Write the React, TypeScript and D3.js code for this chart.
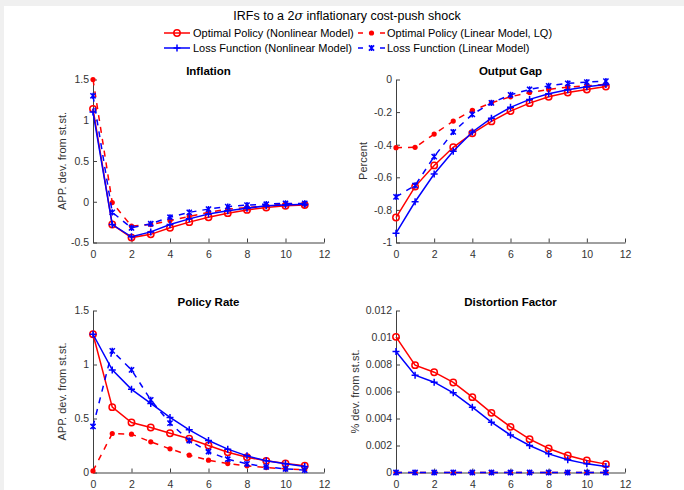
import React, { useEffect, useRef } from "react";
import * as d3 from "d3";

const periods = [0, 1, 2, 3, 4, 5, 6, 7, 8, 9, 10, 11];

const inflOptNL = [1.14, -0.28, -0.44, -0.4, -0.32, -0.25, -0.19, -0.14, -0.1, -0.07, -0.05, -0.04];
const inflOptLin = [1.5, -0.01, -0.3, -0.28, -0.23, -0.18, -0.13, -0.09, -0.07, -0.05, -0.03, -0.03];
const inflLossNL = [1.1, -0.28, -0.43, -0.37, -0.28, -0.21, -0.15, -0.11, -0.08, -0.05, -0.04, -0.03];
const inflLossLin = [1.3, -0.13, -0.32, -0.27, -0.19, -0.13, -0.09, -0.06, -0.04, -0.03, -0.02, -0.02];

const gapOptNL = [-0.847, -0.657, -0.527, -0.416, -0.33, -0.257, -0.194, -0.145, -0.106, -0.08, -0.061, -0.043];
const gapOptLin = [-0.418, -0.416, -0.335, -0.255, -0.19, -0.143, -0.106, -0.08, -0.061, -0.047, -0.039, -0.029];
const gapLossNL = [-0.943, -0.75, -0.58, -0.44, -0.322, -0.237, -0.171, -0.122, -0.088, -0.063, -0.045, -0.031];
const gapLossLin = [-0.72, -0.65, -0.473, -0.322, -0.214, -0.143, -0.094, -0.061, -0.039, -0.024, -0.016, -0.01];

const rateOptNL = [1.28, 0.605, 0.463, 0.417, 0.364, 0.312, 0.25, 0.188, 0.142, 0.108, 0.083, 0.062];
const rateOptLin = [0.015, 0.361, 0.355, 0.284, 0.219, 0.16, 0.114, 0.083, 0.062, 0.046, 0.034, 0.025];
const rateLossNL = [1.28, 0.95, 0.77, 0.64, 0.51, 0.395, 0.296, 0.216, 0.154, 0.108, 0.08, 0.056];
const rateLossLin = [0.426, 1.126, 0.95, 0.672, 0.457, 0.296, 0.194, 0.123, 0.08, 0.052, 0.034, 0.022];

const distOptNL = [0.01005, 0.00795, 0.00743, 0.00667, 0.00558, 0.00442, 0.00338, 0.00247, 0.00178, 0.00126, 0.00089, 0.00062];
const distOptLin = [0, 0, 0, 0, 0, 0, 0, 0, 0, 0, 0, 0];
const distLossNL = [0.00896, 0.00721, 0.00669, 0.0059, 0.00484, 0.00373, 0.00277, 0.002, 0.00138, 0.00094, 0.00064, 0.00044];
const distLossLin = [0, 0, 0, 0, 0, 0, 0, 0, 0, 0, 0, 0];

const seriesNames = [
  "Optimal Policy (Nonlinear Model)",
  "Optimal Policy (Linear Model, LQ)",
  "Loss Function (Nonlinear Model)",
  "Loss Function (Linear Model)",
];
const seriesColors = ["#ff0000", "#ff0000", "#0000ff", "#0000ff"];
const seriesDashed = [false, true, false, true];
const seriesMarkers = ["circle", "dot", "plus", "star"];

const xTicks = [0, 2, 4, 6, 8, 10, 12];
const panelTitles = ["Inflation", "Output Gap", "Policy Rate", "Distortion Factor"];
const panelYLabels = ["APP. dev. from st.st.", "Percent", "APP. dev. from st.st.", "% dev. from st.st."];
const panelYDomains = [[-0.5, 1.5], [-1, 0], [0, 1.5], [0, 0.012]];
const panelYTicks = [
  [-0.5, 0, 0.5, 1, 1.5],
  [-1, -0.8, -0.6, -0.4, -0.2, 0],
  [0, 0.5, 1, 1.5],
  [0, 0.002, 0.004, 0.006, 0.008, 0.01, 0.012],
];
const panelData = [
  [inflOptNL, inflOptLin, inflLossNL, inflLossLin],
  [gapOptNL, gapOptLin, gapLossNL, gapLossLin],
  [rateOptNL, rateOptLin, rateLossNL, rateLossLin],
  [distOptNL, distOptLin, distLossNL, distLossLin],
];

const FONT = "'Liberation Sans', Arial, Helvetica, sans-serif";
const AXIS = "#404040";

function drawMarker(g: any, type: string, x: number, y: number, color: string) {
  if (type === "circle") {
    g.append("circle").attr("cx", x).attr("cy", y).attr("r", 3.2)
      .attr("fill", "none").attr("stroke", color).attr("stroke-width", 1.5);
  } else if (type === "dot") {
    g.append("circle").attr("cx", x).attr("cy", y).attr("r", 2.6).attr("fill", color);
  } else if (type === "plus") {
    const s = 3.5;
    g.append("path").attr("d", `M${x - s},${y}H${x + s}M${x},${y - s}V${y + s}`)
      .attr("stroke", color).attr("stroke-width", 1.5).attr("fill", "none");
  } else {
    const s = 2.6;
    g.append("path")
      .attr("d", `M${x - s},${y - s}L${x + s},${y + s}M${x - s},${y + s}L${x + s},${y - s}M${x},${y - s - 0.5}V${y + s + 0.5}`)
      .attr("stroke", color).attr("stroke-width", 1.5).attr("fill", "none");
  }
}

export default function App() {
  const ref = useRef<SVGSVGElement>(null);
  useEffect(() => {
    const svg = d3.select(ref.current);
    svg.selectAll("*").remove();
    svg.append("rect").attr("width", 684).attr("height", 490).attr("fill", "#f0f0f0");
    svg.append("rect").attr("x", 4).attr("y", 6).attr("width", 680).attr("height", 484).attr("fill", "#ffffff");

    const title = svg.append("text").attr("x", 347).attr("y", 20).attr("text-anchor", "middle")
      .attr("font-family", FONT).attr("font-size", 12.5).attr("fill", "#000");
    title.append("tspan").text("IRFs to a 2");
    title.append("tspan").attr("font-style", "italic").attr("font-family", "'DejaVu Serif', serif").text("σ");
    title.append("tspan").text(" inflationary cost-push shock");

    // legend
    const legPos = [
      { x1: 164, x2: 190, y: 33, tx: 193 },
      { x1: 358, x2: 385, y: 33, tx: 387 },
      { x1: 164, x2: 190, y: 48, tx: 193 },
      { x1: 358, x2: 385, y: 48, tx: 387 },
    ];
    const leg = svg.append("g");
    legPos.forEach((p, i) => {
      leg.append("line").attr("x1", p.x1).attr("x2", p.x2).attr("y1", p.y).attr("y2", p.y)
        .attr("stroke", seriesColors[i]).attr("stroke-width", 1.5)
        .attr("stroke-dasharray", seriesDashed[i] ? "5,17" : null);
      drawMarker(leg, seriesMarkers[i], (p.x1 + p.x2) / 2, p.y, seriesColors[i]);
      leg.append("text").attr("x", p.tx).attr("y", p.y + 4).attr("font-family", FONT)
        .attr("font-size", 11).attr("fill", "#000").text(seriesNames[i]);
    });

    const boxes = [
      { x0: 93, x1: 324, y0: 79.5, y1: 242.5, lx: 62 },
      { x0: 396, x1: 625, y0: 79.5, y1: 242.5, lx: 363 },
      { x0: 93, x1: 324, y0: 310.5, y1: 472.5, lx: 62 },
      { x0: 396, x1: 625, y0: 310.5, y1: 472.5, lx: 355 },
    ];

    boxes.forEach((b, pi) => {
      const g = svg.append("g");
      const x = d3.scaleLinear().domain([0, 12]).range([b.x0, b.x1]);
      const y = d3.scaleLinear().domain(panelYDomains[pi]).range([b.y1, b.y0]);
      const fmt = (v: number) => {
        const s = pi === 3 ? (v === 0 ? "0" : d3.format(".3~f")(v)) : d3.format("~g")(v);
        return s.replace("\u2212", "-");
      };

      const xa = g.append("g").attr("transform", `translate(0,${b.y1})`)
        .call(d3.axisBottom(x).tickValues(xTicks).tickSizeInner(-4).tickSizeOuter(0).tickPadding(8).tickFormat(d3.format("d") as any));
      const ya = g.append("g").attr("transform", `translate(${b.x0},0)`)
        .call(d3.axisLeft(y).tickValues(panelYTicks[pi]).tickSizeInner(-4).tickSizeOuter(0).tickPadding(4).tickFormat(fmt as any));
      [xa, ya].forEach((a) => {
        a.select(".domain").attr("stroke", AXIS).attr("stroke-width", 1);
        a.selectAll(".tick line").attr("stroke", AXIS);
        a.selectAll("text").attr("font-family", FONT).attr("font-size", 10.5).attr("fill", "#333");
      });

      g.append("text").attr("x", (b.x0 + b.x1) / 2).attr("y", b.y0 - 5).attr("text-anchor", "middle")
        .attr("font-family", FONT).attr("font-size", 11.5).attr("font-weight", "bold").attr("fill", "#000")
        .text(panelTitles[pi]);
      g.append("text").attr("transform", `translate(${b.lx},${(b.y0 + b.y1) / 2}) rotate(-90)`)
        .attr("text-anchor", "middle").attr("dy", "0.35em")
        .attr("font-family", FONT).attr("font-size", 11).attr("fill", "#333").text(panelYLabels[pi]);

      const line = d3.line<number>().x((_, i) => x(periods[i])).y((d) => y(d));
      panelData[pi].forEach((vals, si) => {
        g.append("path").attr("d", line(vals)).attr("fill", "none")
          .attr("stroke", seriesColors[si]).attr("stroke-width", 1.5)
          .attr("stroke-dasharray", seriesDashed[si] ? "6,6" : null);
        vals.forEach((v, i) => drawMarker(g, seriesMarkers[si], x(periods[i]), y(v), seriesColors[si]));
      });
    });
  }, []);
  return (
    <svg ref={ref} width={684} height={490}
      style={{ position: "absolute", left: 0, top: 0, display: "block" }} />
  );
}
